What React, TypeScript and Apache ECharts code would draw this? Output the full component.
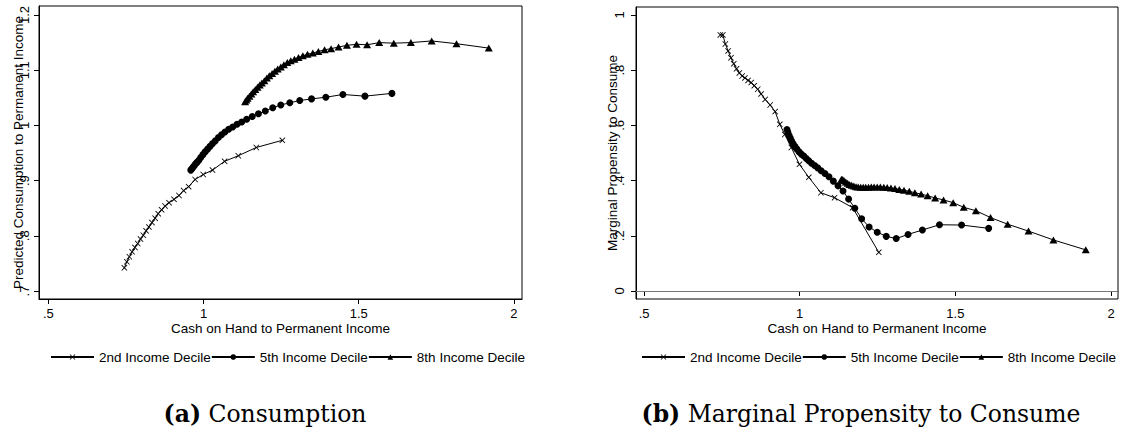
import React, { useEffect, useRef } from 'react';
import * as echarts from 'echarts';

const seriesNames = ['2nd Income Decile', '5th Income Decile', '8th Income Decile'];
const xTicks = [0.5, 1, 1.5, 2];
const yTicksA = [0.7, 0.8, 0.9, 1, 1.1, 1.2];
const yTicksB = [0, 0.2, 0.4, 0.6, 0.8, 1];

const xTitle = 'Cash on Hand to Permanent Income';
const yTitleA = 'Predicted Consumption to Permanent Income';
const yTitleB = 'Marginal Propensity to Consume';

// 2nd income decile
const cash2 = [0.745, 0.753, 0.761, 0.770, 0.779, 0.788, 0.797, 0.806, 0.815, 0.824, 0.834, 0.844, 0.854, 0.865, 0.876, 0.889, 0.905, 0.921, 0.936, 0.952, 0.973, 0.999, 1.029, 1.068, 1.112, 1.170, 1.254];
const cons2 = [0.742, 0.753, 0.762, 0.771, 0.779, 0.786, 0.794, 0.801, 0.809, 0.816, 0.824, 0.832, 0.840, 0.847, 0.854, 0.860, 0.866, 0.873, 0.882, 0.889, 0.902, 0.911, 0.919, 0.935, 0.945, 0.960, 0.973];
const mpc2 = [0.928, 0.928, 0.895, 0.870, 0.845, 0.823, 0.805, 0.790, 0.779, 0.772, 0.763, 0.755, 0.744, 0.731, 0.714, 0.694, 0.674, 0.650, 0.604, 0.567, 0.520, 0.459, 0.412, 0.356, 0.338, 0.302, 0.140];

// 5th income decile
const cash5 = [0.959, 0.962, 0.966, 0.970, 0.974, 0.979, 0.985, 0.991, 0.998, 1.005, 1.013, 1.021, 1.029, 1.038, 1.048, 1.058, 1.069, 1.081, 1.094, 1.108, 1.123, 1.139, 1.157, 1.177, 1.199, 1.223, 1.249, 1.278, 1.310, 1.348, 1.394, 1.449, 1.520, 1.607];
const cons5 = [0.919, 0.921, 0.924, 0.927, 0.930, 0.933, 0.937, 0.942, 0.947, 0.952, 0.957, 0.962, 0.967, 0.972, 0.978, 0.983, 0.988, 0.993, 0.997, 1.002, 1.006, 1.011, 1.016, 1.021, 1.026, 1.032, 1.037, 1.041, 1.045, 1.048, 1.051, 1.056, 1.053, 1.058];
const mpc5 = [0.585, 0.575, 0.563, 0.553, 0.543, 0.533, 0.523, 0.514, 0.504, 0.496, 0.489, 0.480, 0.472, 0.463, 0.455, 0.446, 0.436, 0.426, 0.414, 0.398, 0.381, 0.362, 0.333, 0.300, 0.262, 0.232, 0.213, 0.198, 0.190, 0.205, 0.221, 0.240, 0.239, 0.227];

// 8th income decile
const cash8 = [1.134, 1.138, 1.142, 1.148, 1.154, 1.160, 1.167, 1.174, 1.181, 1.188, 1.196, 1.204, 1.212, 1.221, 1.230, 1.239, 1.249, 1.259, 1.270, 1.281, 1.293, 1.306, 1.320, 1.335, 1.352, 1.370, 1.390, 1.411, 1.435, 1.462, 1.493, 1.527, 1.566, 1.613, 1.668, 1.735, 1.815, 1.919];
const cons8 = [1.043, 1.046, 1.049, 1.053, 1.057, 1.061, 1.065, 1.069, 1.073, 1.077, 1.081, 1.086, 1.090, 1.094, 1.098, 1.102, 1.106, 1.110, 1.114, 1.117, 1.120, 1.123, 1.126, 1.129, 1.131, 1.134, 1.137, 1.139, 1.142, 1.145, 1.147, 1.146, 1.150, 1.149, 1.150, 1.153, 1.148, 1.140];
const mpc8 = [0.405, 0.404, 0.400, 0.395, 0.390, 0.386, 0.383, 0.380, 0.378, 0.377, 0.376, 0.376, 0.376, 0.376, 0.377, 0.377, 0.377, 0.377, 0.376, 0.375, 0.373, 0.371, 0.368, 0.365, 0.361, 0.356, 0.351, 0.345, 0.337, 0.330, 0.320, 0.303, 0.291, 0.266, 0.242, 0.217, 0.185, 0.149];

const SANS = "'Liberation Sans', Arial, Helvetica, sans-serif";
const SERIF = "'DejaVu Serif', serif";
const X_SYMBOL = 'path://M1,0 L5,4 L9,0 L10,1 L6,5 L10,9 L9,10 L5,6 L1,10 L0,9 L4,5 L0,1 Z';

const zip = (xs: number[], ys: number[]) => xs.map((x, i) => [x, ys[i]]);
const fmt = (v: number) => {
  const s = String(Math.round(v * 10) / 10);
  return s.startsWith('0.') ? s.slice(1) : s;
};

export default function App() {
  const ref = useRef<HTMLDivElement>(null);
  useEffect(() => {
    if (!ref.current) return;
    const chart = echarts.init(ref.current, undefined, { renderer: 'svg' });

    const markers = [
      { symbol: X_SYMBOL, symbolSize: 6 },
      { symbol: 'circle', symbolSize: 7 },
      { symbol: 'triangle', symbolSize: [8, 7] },
    ];
    const dataA = [zip(cash2, cons2), zip(cash5, cons5), zip(cash8, cons8)];
    const dataB = [zip(cash2, mpc2), zip(cash5, mpc5), zip(cash8, mpc8)];

    const mkSeries = (panel: number, i: number, data: number[][]) => ({
      type: 'line',
      name: seriesNames[i],
      xAxisIndex: panel,
      yAxisIndex: panel,
      data,
      symbol: markers[i].symbol,
      symbolSize: markers[i].symbolSize,
      showSymbol: true,
      clip: false,
      lineStyle: { color: '#000', width: 1 },
      itemStyle: { color: '#000' },
      emphasis: { disabled: true },
      z: 3,
    });

    const series: any[] = [];
    dataA.forEach((d, i) => series.push(mkSeries(0, i, d)));
    dataB.forEach((d, i) => series.push(mkSeries(1, i, d)));
    series[3].markLine = {
      silent: true,
      symbol: ['none', 'none'],
      label: { show: false },
      lineStyle: { color: '#777', width: 1, type: 'solid' },
      data: [{ yAxis: 0 }],
    };

    const xAxisBase = (gridIndex: number, min: number, max: number) => ({
      type: 'value',
      gridIndex,
      min,
      max,
      name: xTitle,
      nameLocation: 'middle',
      nameGap: 22,
      nameMoveOverlap: false,
      nameTextStyle: { fontFamily: SANS, fontSize: 13.5, color: '#000' },
      splitLine: { show: false },
      axisLine: { show: true, lineStyle: { color: '#000', width: 1 } },
      axisTick: { show: true, length: 5, customValues: xTicks, lineStyle: { color: '#000' } },
      axisLabel: {
        customValues: xTicks,
        formatter: fmt,
        margin: 8,
        fontFamily: SANS,
        fontSize: 13,
        color: '#000',
      },
    });

    const yAxisBase = (gridIndex: number, min: number, max: number, ticks: number[], title: string, gap: number, margin: number) => ({
      type: 'value',
      gridIndex,
      min,
      max,
      name: title,
      nameLocation: 'middle',
      nameRotate: 90,
      nameGap: gap,
      nameMoveOverlap: false,
      nameTextStyle: { fontFamily: SANS, fontSize: 13.5, color: '#000' },
      splitLine: { show: false },
      axisLine: { show: true, lineStyle: { color: '#000', width: 1 } },
      axisTick: { show: true, length: 5, customValues: ticks, lineStyle: { color: '#000' } },
      axisLabel: {
        customValues: ticks,
        formatter: fmt,
        rotate: 90,
        margin,
        fontFamily: SANS,
        fontSize: 13,
        color: '#000',
      },
    });

    const legendBase = (left: number) => ({
      left,
      top: 350,
      padding: 0,
      itemGap: 0,
      itemWidth: 43,
      itemHeight: 7,
      selectedMode: false,
      data: seriesNames,
      textStyle: { fontFamily: SANS, fontSize: 13.5, color: '#000' },
    });

    const caption = (x: number, label: string, text: string) => ({
      type: 'text',
      x,
      y: 414,
      style: {
        text: `{b|${label}} ${text}`,
        rich: { b: { fontFamily: SERIF, fontWeight: 'bold', fontSize: 23.5, fill: '#000' } },
        fontFamily: SERIF,
        fontSize: 23.5,
        fill: '#000',
        textAlign: 'center',
        textVerticalAlign: 'middle',
      },
    });

    chart.setOption({
      animation: false,
      backgroundColor: '#fff',
      grid: [
        { left: 39, top: 6, width: 483, height: 293, show: true, borderColor: '#000', borderWidth: 1, backgroundColor: 'transparent' },
        { left: 636, top: 7, width: 482, height: 292, show: true, borderColor: '#000', borderWidth: 1, backgroundColor: 'transparent' },
      ],
      xAxis: [xAxisBase(0, 0.47, 2.026), xAxisBase(1, 0.474, 2.0225)],
      yAxis: [
        yAxisBase(0, 0.6855, 1.2163, yTicksA, yTitleA, 14, 8),
        yAxisBase(1, -0.029, 1.029, yTicksB, yTitleB, 17, 10),
      ],
      legend: [legendBase(50), legendBase(641)],
      series,
      graphic: [
        caption(265, '(a)', 'Consumption'),
        caption(861, '(b)', 'Marginal Propensity to Consume'),
      ],
    } as any);

    return () => chart.dispose();
  }, []);

  return (
    <div
      ref={ref}
      style={{ position: 'fixed', left: 0, top: 0, width: 1130, height: 433, background: '#fff' }}
    />
  );
}
